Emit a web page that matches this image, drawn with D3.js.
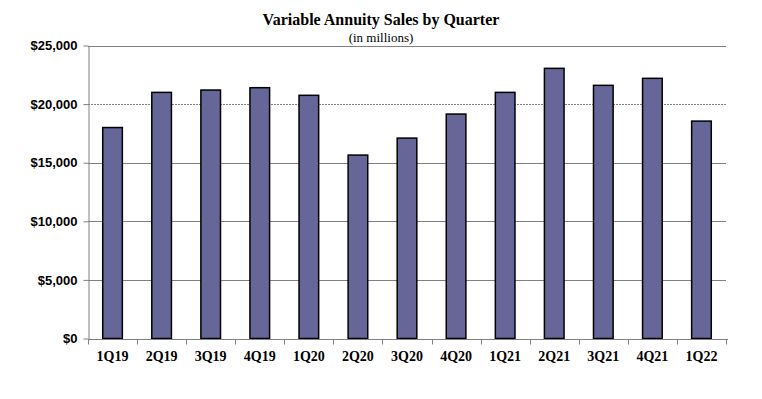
<!DOCTYPE html>
<html>
<head>
<meta charset="utf-8">
<script src="https://cdn.jsdelivr.net/npm/d3@7"></script>
<style>
  body { margin: 0; background: #fff; }
  svg { display: block; font-family: "Liberation Serif", "Times New Roman", serif; }
  .grid line { stroke: #808080; stroke-width: 1; }
  .axis path, .axis line { stroke: #808080; }
  .axis text { font-weight: bold; font-size: 13px; fill: #000; }
  .axis text.lbl { font-size: 14px; }
</style>
</head>
<body>
<svg id="chart"></svg>
<script>
// Variable annuity sales, $ millions
const quarters = ['1Q19', '2Q19', '3Q19', '4Q19', '1Q20', '2Q20', '3Q20', '4Q20', '1Q21', '2Q21', '3Q21', '4Q21', '1Q22'];
const sales = [18000, 21000, 21200, 21400, 20750, 15650, 17100, 19150, 21000, 23050, 21600, 22200, 18550];
const yTicks = [0, 5000, 10000, 15000, 20000, 25000];

const W = 762, H = 399;
const margin = { top: 45.5, right: 36, bottom: 60.5, left: 88 };

const svg = d3.select('#chart')
  .attr('width', W)
  .attr('height', H);

const x = d3.scaleBand()
  .domain(quarters)
  .range([margin.left, W - margin.right])
  .paddingInner(0.6)
  .paddingOuter(0.3);

const y = d3.scaleLinear()
  .domain([0, 25000])
  .range([H - margin.bottom, margin.top]);

// Gridlines (the $20,000 one is dotted in the original)
svg.append('g').attr('class', 'grid')
  .selectAll('line')
  .data(yTicks.filter(d => d > 0))
  .enter()
  .append('line')
  .attr('x1', margin.left)
  .attr('x2', W - margin.right)
  .attr('y1', d => Math.round(y(d)) + 0.5)
  .attr('y2', d => Math.round(y(d)) + 0.5)
  .attr('stroke-dasharray', d => d === 20000 ? '2,1' : null);

// Bars
svg.append('g')
  .selectAll('rect')
  .data(sales)
  .enter()
  .append('rect')
  .attr('x', (d, i) => x(quarters[i]))
  .attr('y', d => y(d))
  .attr('width', x.bandwidth())
  .attr('height', d => y(0) - y(d))
  .attr('fill', '#666699')
  .attr('stroke', '#000')
  .attr('stroke-width', 1.5);

// Y axis
const yAxis = svg.append('g').attr('class', 'axis')
  .attr('transform', `translate(${margin.left + 0.5},0)`)
  .call(d3.axisLeft(y).tickValues(yTicks).tickSize(5).tickSizeOuter(0)
    .tickFormat(d => '$' + d3.format(',')(d)));
yAxis.selectAll('text').attr('dx', '-3');

// X axis: ticks sit between the categories
const xAxis = svg.append('g').attr('class', 'axis')
  .attr('transform', `translate(0,${Math.round(y(0)) + 0.5})`);
xAxis.append('line')
  .attr('x1', margin.left).attr('x2', W - margin.right + 2);
const bounds = d3.range(quarters.length + 1).map(i => margin.left + i * (W - margin.left - margin.right) / quarters.length);
xAxis.selectAll('.sep')
  .data(bounds)
  .enter()
  .append('line')
  .attr('class', 'sep')
  .attr('x1', d => Math.round(d) + 0.5)
  .attr('x2', d => Math.round(d) + 0.5)
  .attr('y2', 5);
xAxis.selectAll('.lbl')
  .data(quarters)
  .enter()
  .append('text')
  .attr('class', 'lbl')
  .attr('x', d => x(d) + x.bandwidth() / 2)
  .attr('y', 21)
  .attr('text-anchor', 'middle')
  .text(d => d);

// Title
svg.append('text')
  .attr('x', 381)
  .attr('y', 25)
  .attr('text-anchor', 'middle')
  .attr('font-weight', 'bold')
  .attr('font-size', '16px')
  .text('Variable Annuity Sales by Quarter');
svg.append('text')
  .attr('x', 381)
  .attr('y', 42)
  .attr('text-anchor', 'middle')
  .attr('font-size', '13px')
  .text('(in millions)');
</script>
</body>
</html>
